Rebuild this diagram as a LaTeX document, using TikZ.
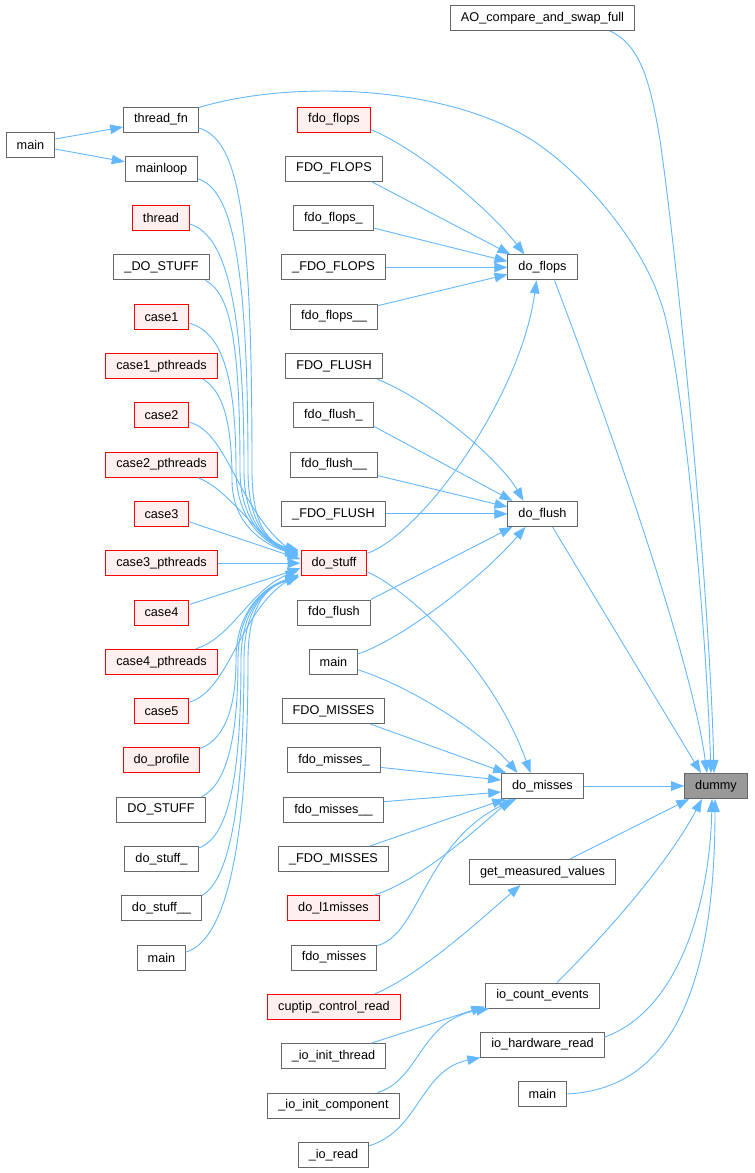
\documentclass[tikz,border=0pt]{standalone}
\usepackage{fontspec}
\setmainfont{Liberation Sans}
\usetikzlibrary{calc,arrows.meta}
\definecolor{edgeblue}{HTML}{63B8FF}
\definecolor{boxgray}{HTML}{666666}
\definecolor{redfill}{HTML}{FFF0F0}
\definecolor{dummyfill}{HTML}{999999}
\begin{document}
\begin{tikzpicture}[x=1pt,y=-1pt,
  box/.style={draw=boxgray,line width=1pt,fill=white,minimum height=25pt,inner xsep=10.5pt,inner ysep=0pt,font=\fontsize{12.7}{15}\selectfont},
  redbox/.style={box,draw=red,fill=redfill},
  graybox/.style={box,fill=dummyfill},
  arr/.style={draw=edgeblue,line width=0.9pt,-{Triangle[length=13pt,width=9.5pt]}}
]
\fill[white] (0,0) rectangle (755,1173);
\useasboundingbox (0,0) rectangle (755,1173);

% column 1
\node[box] (m1) at (30.5,144.5) {main};
% column 2
\node[box] (tfn) at (161,119.5) {thread\_fn};
\node[box] (mloop) at (161.5,168.8) {mainloop};
\node[redbox] (thr) at (161,218.1) {thread};
\node[box] (DOS) at (161.5,267.4) {\_DO\_STUFF};
\node[redbox] (c1) at (161.5,316.7) {case1};
\node[redbox] (c1p) at (161.5,366) {case1\_pthreads};
\node[redbox] (c2) at (161.5,415.3) {case2};
\node[redbox] (c2p) at (161.5,464.6) {case2\_pthreads};
\node[redbox] (c3) at (161.5,513.9) {case3};
\node[redbox] (c3p) at (161.5,563.2) {case3\_pthreads};
\node[redbox] (c4) at (161.5,612.5) {case4};
\node[redbox] (c4p) at (161.5,661.8) {case4\_pthreads};
\node[redbox] (c5) at (161.5,711.1) {case5};
\node[redbox] (dprof) at (161.5,760.4) {do\_profile};
\node[box] (DOST) at (161,809.7) {DO\_STUFF};
\node[box] (dst1) at (161.5,859) {do\_stuff\_};
\node[box] (dst2) at (161.5,908.3) {do\_stuff\_\_};
\node[box] (m2) at (161.5,957.6) {main};
% column 3
\node[redbox] (ffl) at (334,119.5) {fdo\_flops};
\node[box] (FFL) at (334,168.8) {FDO\_FLOPS};
\node[box] (ffl1) at (333.5,218.1) {fdo\_flops\_};
\node[box] (FFLu) at (333.5,267.4) {\_FDO\_FLOPS};
\node[box] (ffl2) at (334,316.7) {fdo\_flops\_\_};
\node[box] (FFU) at (334,366) {FDO\_FLUSH};
\node[box] (ffu1) at (333.5,415.3) {fdo\_flush\_};
\node[box] (ffu2) at (334,464.6) {fdo\_flush\_\_};
\node[box] (FFUu) at (333.5,513.9) {\_FDO\_FLUSH};
\node[redbox] (ds) at (334,563.2) {do\_stuff};
\node[box] (ffu) at (334,612.5) {fdo\_flush};
\node[box] (m3) at (333.5,661.8) {main};
\node[box] (FMI) at (333.5,711.1) {FDO\_MISSES};
\node[box] (fmi1) at (334,760.4) {fdo\_misses\_};
\node[box] (fmi2) at (333.5,809.7) {fdo\_misses\_\_};
\node[box] (FMIu) at (333.5,859) {\_FDO\_MISSES};
\node[redbox] (dl1) at (333.5,908.3) {do\_l1misses};
\node[box] (fmi) at (334,957.6) {fdo\_misses};
\node[redbox] (cup) at (334,1006.9) {cuptip\_control\_read};
\node[box] (iit) at (333.5,1056.2) {\_io\_init\_thread};
\node[box] (iic) at (333.5,1105.5) {\_io\_init\_component};
\node[box] (ior) at (333.5,1154.8) {\_io\_read};
% column 4
\node[box] (ao) at (542.5,18) {AO\_compare\_and\_swap\_full};
\node[box] (dfl) at (542.5,267.4) {do\_flops};
\node[box] (dfu) at (542.5,513.9) {do\_flush};
\node[box] (dmi) at (542.5,786) {do\_misses};
\node[box] (gmv) at (542.5,872) {get\_measured\_values};
\node[box] (ioc) at (542.5,995.5) {io\_count\_events};
\node[box] (ihr) at (542.5,1044.5) {io\_hardware\_read};
\node[box] (m4) at (542.5,1094) {main};
% column 5
\node[graybox] (dum) at (716,786) {dummy};

% main -> thread_fn, mainloop
\draw[arr] ($(m1.east)+(0,-5.5)$) -- ($(tfn.west)+(0,7.5)$);
\draw[arr] ($(m1.east)+(0,4.5)$) -- ($(mloop.west)+(0,-7)$);

% column 2 -> do_stuff (upper)
\draw[arr] ($(tfn.east)+(0,8.5)$) .. controls (240,140) and (252,220) .. (252,470) .. controls (252,520) and (265,542) .. ($(ds.north west)+(-2,0)$);
\draw[arr] ($(mloop.east)+(0,10)$) .. controls (230,190) and (248,250) .. (248,470) .. controls (248,520) and (265,542) .. ($(ds.north west)+(-2,1)$);
\draw[arr] ($(thr.east)+(0,6)$) .. controls (222,234) and (244,290) .. (244,470) .. controls (244,520) and (265,543) .. ($(ds.north west)+(-2,2)$);
\draw[arr] ($(DOS.south east)+(-4,0)$) .. controls (228,293) and (240,330) .. (240,470) .. controls (240,520) and (265,543) .. ($(ds.north west)+(-2,3)$);
\draw[arr] ($(c1.east)+(0,6.5)$) .. controls (220,332) and (236,370) .. (236,470) .. controls (236,520) and (265,544) .. ($(ds.north west)+(-2,4)$);
\draw[arr] ($(c1p.south east)+(-15,0)$) .. controls (222,390) and (232,420) .. (232,480) .. controls (232,525) and (265,545) .. ($(ds.north west)+(-2,5)$);
\draw[arr] ($(c2.east)+(0,7)$) .. controls (228,432) and (238,510) .. ($(ds.west)+(-2,-7)$);
\draw[arr] ($(c2p.south east)+(-20,0)$) .. controls (230,490) and (255,535) .. ($(ds.west)+(-2,-5)$);
\draw[arr] ($(c3.east)+(0,8)$) -- ($(ds.west)+(0,-4)$);
\draw[arr] (c3p.east) -- (ds.west);
\draw[arr] ($(c4.east)+(0,-8)$) -- ($(ds.west)+(0,5)$);
% column 2 -> do_stuff (lower)
\draw[arr] ($(c4p.north east)+(-22,0)$) .. controls (232,638) and (250,590) .. ($(ds.west)+(-2,7)$);
\draw[arr] ($(c5.east)+(0,-9)$) .. controls (230,690) and (240,610) .. ($(ds.south west)+(-2,-2)$);
\draw[arr] ($(dprof.east)+(0,-12)$) .. controls (228,738) and (236,700) .. (236,660) .. controls (236,612) and (262,588) .. ($(ds.south west)+(-2,-1)$);
\draw[arr] ($(DOST.north east)+(-4,0)$) .. controls (226,785) and (238,740) .. (238,660) .. controls (238,612) and (262,588) .. ($(ds.south west)+(-2,0)$);
\draw[arr] ($(dst1.east)+(0,-11)$) .. controls (228,838) and (241,780) .. (241,660) .. controls (241,612) and (262,588) .. ($(ds.south west)+(-2,0)$);
\draw[arr] (dst2.north east) .. controls (230,880) and (244,800) .. (244,660) .. controls (244,612) and (262,588) .. ($(ds.south west)+(-2,1)$);
\draw[arr] ($(m2.east)+(0,-5.6)$) .. controls (225,940) and (248,850) .. (248,660) .. controls (248,612) and (262,588) .. ($(ds.south west)+(-2,1)$);

% -> do_flops
\draw[arr] ($(ffl.east)+(0,10)$) .. controls (420,150) and (490,210) .. ($(dfl.north)+(-18,0)$);
\draw[arr] ($(FFL.south east)+(-11,0)$) -- ($(dfl.north west)+(3,0)$);
\draw[arr] ($(ffl1.east)+(0,10)$) -- ($(dfl.west)+(0,-6)$);
\draw[arr] (FFLu.east) -- (dfl.west);
\draw[arr] ($(ffl2.east)+(0,-11)$) -- ($(dfl.west)+(0,7)$);
\draw[arr] ($(ds.east)+(0,-10)$) .. controls (420,535) and (520,400) .. ($(dfl.south)+(-6,0)$);

% -> do_flush
\draw[arr] ($(FFU.south east)+(-6,0)$) .. controls (430,400) and (500,460) .. ($(dfu.north)+(-19,0)$);
\draw[arr] ($(ffu1.east)+(0,11)$) -- ($(dfu.north west)+(5,0)$);
\draw[arr] ($(ffu2.east)+(0,11)$) -- ($(dfu.west)+(0,-7)$);
\draw[arr] (FFUu.east) -- (dfu.west);
\draw[arr] (ffu.north east) -- ($(dfu.south west)+(5,0)$);
\draw[arr] ($(m3.east)+(0,-8)$) .. controls (400,640) and (480,580) .. ($(dfu.south)+(-17,0)$);

% -> do_misses
\draw[arr] ($(ds.east)+(0,9)$) .. controls (400,585) and (490,660) .. ($(dmi.north)+(-12,0)$);
\draw[arr] ($(m3.east)+(0,8)$) .. controls (420,690) and (490,740) .. ($(dmi.north)+(-25,0)$);
\draw[arr] ($(FMI.south east)+(-15,0)$) -- ($(dmi.north west)+(5,0)$);
\draw[arr] ($(fmi1.east)+(0,7)$) -- ($(dmi.west)+(0,-6)$);
\draw[arr] ($(fmi2.east)+(0,-8)$) -- ($(dmi.west)+(0,6)$);
\draw[arr] ($(FMIu.north east)+(-19,0)$) -- ($(dmi.south west)+(4,0)$);
\draw[arr] ($(dl1.north east)+(-6,0)$) .. controls (420,880) and (470,835) .. ($(dmi.south west)+(10,0)$);
\draw[arr] ($(fmi.east)+(0,-12)$) .. controls (420,935) and (425,840) .. ($(dmi.south west)+(15,0)$);

% -> get_measured_values, io_count_events, io_hardware_read
\draw[arr] ($(cup.north east)+(-26,0)$) .. controls (420,975) and (480,920) .. ($(gmv.south)+(-22,0)$);
\draw[arr] ($(iit.north east)+(-15,0)$) -- ($(ioc.south west)+(-1,-2)$);
\draw[arr] ($(iic.north east)+(-22,0)$) .. controls (420,1080) and (420,1020) .. ($(ioc.south west)+(4,0)$);
\draw[arr] ($(ior.east)+(0,-9)$) .. controls (420,1130) and (420,1070) .. (ihr.south west);

% -> dummy
\draw[arr] ($(ao.south)+(67.5,0)$) .. controls (640,45) and (650,80) .. (660,140) .. controls (680,280) and (710,600) .. ($(dum.north)+(-2,0)$);
\draw[arr] ($(tfn.north east)+(0,1)$) .. controls (290,80) and (440,85) .. (527,137) .. controls (580,169) and (640,240) .. (660,300) .. controls (680,350) and (705,600) .. ($(dum.north)+(-5,0)$);
\draw[arr] ($(dfl.south)+(12,0)$) .. controls (600,400) and (690,650) .. ($(dum.north)+(-9,0)$);
\draw[arr] ($(dfu.south)+(10,0)$) -- ($(dum.north)+(-15,0)$);
\draw[arr] (dmi.east) -- (dum.west);
\draw[arr] ($(gmv.north)+(27.5,0)$) -- ($(dum.south west)+(5,0)$);
\draw[arr] ($(ioc.north)+(14.5,0)$) .. controls (610,930) and (670,860) .. ($(dum.south)+(-14,0)$);
\draw[arr] ($(ihr.east)+(0,-7.5)$) .. controls (680,1010) and (710,900) .. ($(dum.south)+(-4,0)$);
\draw[arr] (m4.east) .. controls (640,1090) and (715,1040) .. ($(dum.south)+(-1,0)$);
\end{tikzpicture}
\end{document}
